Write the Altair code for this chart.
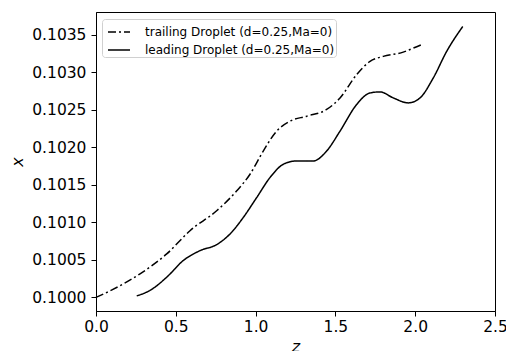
import altair as alt
import pandas as pd

# Axial position z and droplet position x for the two droplets
trailing_z = [0.0, 0.10, 0.276, 0.443, 0.589, 0.756, 0.882, 0.965, 1.048, 1.132,
              1.216, 1.320, 1.445, 1.529, 1.633, 1.717, 1.800, 1.925, 1.988, 2.047]
trailing_x = [0.100000, 0.100100, 0.100314, 0.100579, 0.100888, 0.101154, 0.101419,
              0.101640, 0.101949, 0.102214, 0.102347, 0.102413, 0.102502, 0.102656,
              0.102966, 0.103143, 0.103209, 0.103266, 0.103319, 0.103372]

leading_z = [0.255, 0.338, 0.443, 0.547, 0.652, 0.756, 0.840, 0.923, 1.007, 1.090,
             1.174, 1.257, 1.362, 1.445, 1.529, 1.633, 1.717, 1.779, 1.863, 1.957,
             2.030, 2.113, 2.197, 2.298]
leading_x = [0.100020, 0.100093, 0.100269, 0.100491, 0.100623, 0.100703, 0.100845,
             0.101065, 0.101330, 0.101595, 0.101773, 0.101817, 0.101817, 0.101949,
             0.102214, 0.102568, 0.102722, 0.102736, 0.102656, 0.102590, 0.102656,
             0.102921, 0.103275, 0.103607]

series_names = ["trailing Droplet (d=0.25,Ma=0)", "leading Droplet (d=0.25,Ma=0)"]
x_ticks = [0.0, 0.5, 1.0, 1.5, 2.0, 2.5]
y_ticks = [0.1000, 0.1005, 0.1010, 0.1015, 0.1020, 0.1025, 0.1030, 0.1035]

df = pd.concat([
    pd.DataFrame({"z": trailing_z, "x": trailing_x, "series": series_names[0]}),
    pd.DataFrame({"z": leading_z, "x": leading_x, "series": series_names[1]}),
])

FONT = "DejaVu Sans"

chart = alt.Chart(df).mark_line(
    color="black", strokeWidth=1.5, interpolate="monotone"
).encode(
    x=alt.X("z:Q",
            scale=alt.Scale(domain=[0, 2.5], nice=False, zero=False),
            axis=alt.Axis(values=x_ticks, format=".1f", title="z",
                          titleFontStyle="italic", titlePadding=4,
                          labelPadding=3, labelFlush=False)),
    y=alt.Y("x:Q",
            scale=alt.Scale(domain=[0.099819, 0.103800], nice=False, zero=False),
            axis=alt.Axis(values=y_ticks, format=".4f", title="x",
                          titleFontStyle="italic", titlePadding=6,
                          labelPadding=5, labelFlush=False)),
    strokeDash=alt.StrokeDash(
        "series:N",
        scale=alt.Scale(domain=series_names, range=[[8, 3, 2, 3], [1, 0]]),
        legend=alt.Legend(
            title=None, orient="none", legendX=6, legendY=7,
            symbolType="stroke", symbolSize=484, symbolStrokeWidth=1.5,
            symbolStrokeColor="black", symbolOffset=4,
            labelFontSize=12, labelFont=FONT, labelColor="black",
            labelOffset=14, labelLimit=400, rowPadding=-6,
            padding=1, cornerRadius=3, strokeColor="#d0d0d0", fillColor="white",
        ),
    ),
    detail="series:N",
).properties(
    width=399, height=299,
    background="white",
    autosize=alt.AutoSizeParams(type="none"),
    padding={"left": 96, "top": 12, "right": 11, "bottom": 40},
).configure_view(
    stroke="black", strokeWidth=1,
).configure_axis(
    grid=False, domainColor="black", domainWidth=1,
    tickColor="black", tickSize=5, tickWidth=1,
    labelFont=FONT, labelFontSize=15.5, labelColor="black",
    titleFont=FONT, titleFontSize=16, titleFontWeight="normal", titleColor="black",
)

chart.save("out.html", embed_options={"renderer": "svg", "actions": False})
